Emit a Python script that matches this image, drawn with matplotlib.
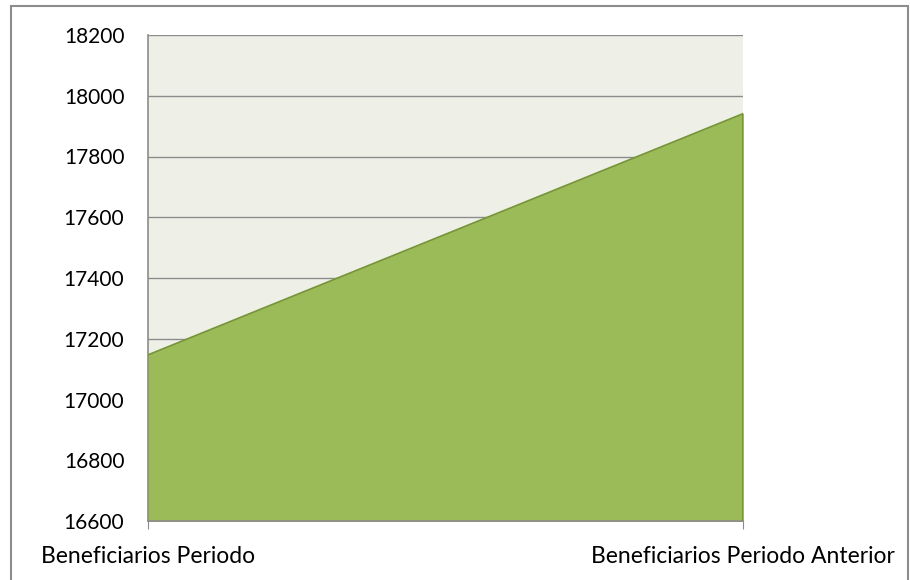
import matplotlib
matplotlib.use("Agg")
from matplotlib import pyplot as plt
from matplotlib.patches import Rectangle

categories = ["Beneficiarios Periodo", "Beneficiarios Periodo Anterior"]
beneficiarios = [17147, 17941]
y_ticks = [16600, 16800, 17000, 17200, 17400, 17600, 17800, 18000, 18200]

plt.rcParams['font.family'] = ['Lato', 'DejaVu Sans']

fig = plt.figure(figsize=(9.1, 5.8), dpi=100)
ax = fig.add_axes([148 / 910, 1 - 521 / 580, (743 - 148) / 910, (521 - 35) / 580])

# outer chart border
fig.patches.append(Rectangle((11 / 910, -0.01), 897 / 910, 1 - 6 / 580 + 0.01,
                             transform=fig.transFigure, fill=False,
                             edgecolor='#8c8c8c', linewidth=1.5))

x = range(len(categories))
ax.fill_between(x, beneficiarios, y_ticks[0], color='#9BBB59', zorder=2)
ax.plot(x, beneficiarios, color='#77933C', linewidth=1.2, zorder=3)
ax.plot([1, 1], [y_ticks[0], beneficiarios[1]], color='#77933C', linewidth=1.5, zorder=3)

ax.set_facecolor('#EEF0E8')
ax.set_xlim(0, 1)
ax.set_ylim(y_ticks[0], y_ticks[-1])
ax.set_yticks(y_ticks)
ax.set_yticklabels([str(v) for v in y_ticks], fontsize=15)
ax.set_xticks(list(x))
ax.set_xticklabels(categories, fontsize=16.5)

ax.yaxis.grid(True, color='#8c8c8c', linewidth=1.0, zorder=1)
ax.set_axisbelow(True)

for side in ['top', 'right']:
    ax.spines[side].set_visible(False)
for side in ['left', 'bottom']:
    ax.spines[side].set_color('#8c8c8c')
    ax.spines[side].set_linewidth(1.2)

ax.tick_params(axis='y', length=0, pad=17)
ax.tick_params(axis='x', length=6, color='#8c8c8c', pad=12)

fig.savefig('out.png', dpi=100)
